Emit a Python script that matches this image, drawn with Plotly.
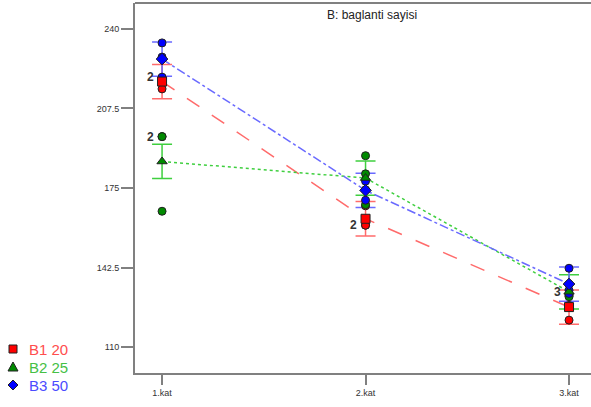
import numpy as np
import plotly.graph_objects as go

# Factor levels on the x axis
levels = [1, 2, 3]
level_labels = ["1.kat", "2.kat", "3.kat"]

# Observed responses per level (three replicates each)
b1_obs = [[220.0, 220.0, 215.5], [167.7, 159.8, 159.8], [131.0, 127.0, 121.0]]
b2_obs = [[196.0, 196.0, 165.5], [188.2, 180.8, 168.2], [135.7, 131.5, 130.6]]
b3_obs = [[234.3, 228.5, 220.3], [177.8, 174.3, 170.0], [142.2, 133.2, 131.9]]

# LSD half-widths for the mean bars
lsd_half = [7.0, 7.0, 7.0]

series_names = ["B1 20", "B2 25", "B3 50"]
marker_colors = ["#ff0000", "#008a00", "#0000ff"]
line_colors = ["#ff6b6b", "#3fcf3f", "#6a6aff"]
text_colors = ["#ff4d4d", "#45c045", "#4b4bff"]
mean_symbols = ["square", "triangle-up", "diamond"]
dash_styles = ["longdash", "dot", "dashdot"]

y_ticks = [110, 142.5, 175, 207.5, 240]

# Replicate-count labels: (level, value, text)
count_labels = [(1, 220.3, "2"), (1, 196.0, "2"), (2, 159.8, "2"), (3, 132.5, "3")]

W, H = 591, 407
ML, MR, MT, MB = 135, 0, 3, 34
PW, PH = W - ML - MR, H - MT - MB


def px_to_paper(px, py):
    return (px - ML) / PW, (H - MB - py) / PH


fig = go.Figure()

all_obs = [b1_obs, b2_obs, b3_obs]
for i, obs in enumerate(all_obs):
    means = [float(np.mean(v)) for v in obs]
    # mean line with LSD bars
    fig.add_trace(go.Scatter(
        x=levels, y=means, mode="lines",
        line=dict(color=line_colors[i], width=1.5, dash=dash_styles[i]),
        error_y=dict(type="data", array=lsd_half, visible=True,
                     color=line_colors[i], thickness=1.5, width=10),
        showlegend=False, hoverinfo="skip",
    ))

for i, obs in enumerate(all_obs):
    xs, ys = [], []
    for lv, vals in zip(levels, obs):
        xs += [lv] * len(vals)
        ys += vals
    fig.add_trace(go.Scatter(
        x=xs, y=ys, mode="markers",
        marker=dict(symbol="circle", size=8, color=marker_colors[i],
                    line=dict(color="#202020", width=1)),
        showlegend=False,
    ))

for i, obs in enumerate(all_obs):
    means = [float(np.mean(v)) for v in obs]
    fig.add_trace(go.Scatter(
        x=levels, y=means, mode="markers",
        marker=dict(symbol=mean_symbols[i], size=9, color=marker_colors[i],
                    line=dict(color="#202020", width=1)),
        showlegend=False,
    ))

for lv, val, txt in count_labels:
    fig.add_annotation(x=lv, y=val, text=f"<b>{txt}</b>", showarrow=False,
                       xshift=-12, font=dict(family="Arial", size=12, color="#333333"))

fig.add_annotation(x=0.52, y=1.0, xref="paper", yref="paper", yanchor="top",
                   text="B: baglanti sayisi", showarrow=False, yshift=-3,
                   font=dict(family="Arial", size=12, color="#222222"))

# key in the left margin: symbol glyphs drawn as pixel-sized shapes plus coloured labels
key_paths = [
    "M -4 -4 L 4 -4 L 4 4 L -4 4 Z",
    "M -5 -4 L 5 -4 L 0 5 Z",
    "M 0 -5 L 5 0 L 0 5 L -5 0 Z",
]
key_rows = [349, 367, 385]
for i in range(3):
    mx, my = px_to_paper(13, key_rows[i])
    fig.add_shape(type="path", xref="paper", yref="paper",
                  xsizemode="pixel", ysizemode="pixel", xanchor=mx, yanchor=my,
                  path=key_paths[i], fillcolor=marker_colors[i],
                  line=dict(color="#202020", width=1))
    tx, ty = px_to_paper(27, key_rows[i])
    fig.add_annotation(x=tx, y=ty, xref="paper", yref="paper", xanchor="left",
                       yanchor="middle", showarrow=False, text=series_names[i],
                       font=dict(family="Arial", size=15, color=text_colors[i]))

fig.update_layout(
    width=W, height=H,
    margin=dict(l=ML, r=MR, t=MT, b=MB, autoexpand=False),
    paper_bgcolor="white", plot_bgcolor="white",
    font=dict(family="Arial", size=9, color="#333333"),
    showlegend=False,
)
fig.update_xaxes(
    range=[0.867, 3.108], tickvals=levels, ticktext=level_labels,
    showline=True, linecolor="#808080", linewidth=2, showgrid=False, zeroline=False,
    ticks="outside", ticklen=10, tickcolor="#808080", tickwidth=2,
    tickfont=dict(family="Arial", size=9, color="#333333"),
)
fig.update_yaxes(
    range=[99.4, 250.6], tickvals=y_ticks, ticktext=["110", "142.5", "175", "207.5", "240"],
    showline=True, linecolor="#808080", linewidth=2, showgrid=False, zeroline=False,
    ticks="outside", ticklen=12, tickcolor="#808080", tickwidth=2,
    tickfont=dict(family="Arial", size=9, color="#333333"),
)
fig.add_shape(type="line", xref="paper", yref="paper", x0=0, x1=1, y0=1, y1=1,
              line=dict(color="#808080", width=2))

fig.write_html("out.html")
